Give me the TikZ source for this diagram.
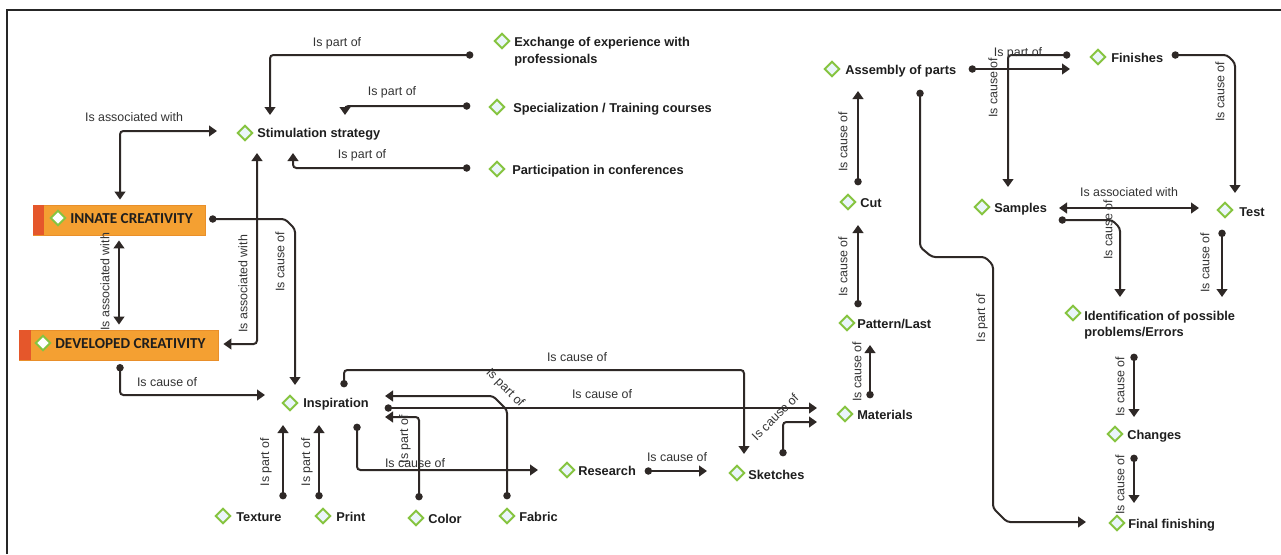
\documentclass[tikz,border=0pt]{standalone}
\usepackage{fontspec}
\setmainfont{Liberation Sans}
\newfontfamily\boxfont{Carlito}
\usetikzlibrary{arrows.meta,shapes.geometric,calc}
\definecolor{linec}{HTML}{2E2826}
\definecolor{greenc}{HTML}{86C440}
\definecolor{diafill}{HTML}{EAF5FA}
\definecolor{orangec}{HTML}{F4A032}
\definecolor{orangeb}{HTML}{E98F2A}
\definecolor{redc}{HTML}{E5572B}
\definecolor{textc}{HTML}{1E1E1E}
\definecolor{lblc}{HTML}{333333}
\tikzset{
  dia/.style={diamond, draw=greenc, fill=diafill, line width=1.5pt, minimum width=11.5pt, minimum height=11.5pt, inner sep=0pt},
  wdia/.style={dia, fill=white},
  ctext/.style={anchor=base west, inner sep=0pt, text=textc, font=\fontsize{9.6}{12.4}\selectfont\bfseries},
  mtext/.style={anchor=north west, inner sep=0pt, align=left, text=textc, font=\fontsize{9.6}{12.4}\selectfont\bfseries},
  btext/.style={anchor=base west, inner sep=0pt, text=textc, font=\fontsize{11.4}{13}\selectfont\boxfont\bfseries},
  obox/.style={draw=orangeb, fill=orangec, line width=0.6pt, minimum height=22.5pt, inner sep=0pt},
  lbl/.style={inner sep=0pt, text=lblc, font=\fontsize{9.3}{11}\selectfont},
  vlbl/.style={lbl, rotate=90},
  conn/.style={draw=linec, line width=1.5pt, rounded corners=2.5pt, shorten <=-2.5pt,
    arrows={Circle[length=5.5pt]-Triangle[width=8pt,length=6pt]}},
  biconn/.style={draw=linec, line width=1.5pt, rounded corners=2.5pt,
    arrows={Triangle[width=8pt,length=6pt]-Triangle[width=8pt,length=6pt]}}
}
\begin{document}
\begin{tikzpicture}[x=0.75pt,y=-0.75pt]
\useasboundingbox (0,0) rectangle (1281,554);
\fill[white] (0,0) rectangle (1281,554);
% frame
\draw[line width=1.2pt, black!85] (7,554) -- (7,10) -- (1281,10);

% orange boxes
\node[obox, minimum width=129pt] (innate) at (119,220) {};
\fill[redc] (innate.north west) rectangle ($(innate.south west)+(11,0)$);
\node[wdia] (dInnate) at (58,218) {};
\node[btext] (innatet) at (70,223) {INNATE CREATIVITY};

\node[obox, minimum width=149.25pt] (developed) at (118.5,345) {};
\fill[redc] (developed.north west) rectangle ($(developed.south west)+(12,0)$);
\node[wdia] (dDev) at (43,343) {};
\node[btext] (developedt) at (55,348) {DEVELOPED CREATIVITY};

% concepts
\node[dia] (dStim) at (245,133) {};
\node[ctext] (stim) at (257,137.5) {Stimulation strategy};
\node[dia] (dExch) at (502,41) {};
\node[mtext] (exch) at (514,37.2) {Exchange of experience with\\professionals};
\node[dia] (dSpec) at (497,107) {};
\node[ctext] (spec) at (513,112) {Specialization / Training courses};
\node[dia] (dPart) at (497,169) {};
\node[ctext] (part) at (512,174) {Participation in conferences};
\node[dia] (dInsp) at (290,403) {};
\node[ctext] (insp) at (303,407.5) {Inspiration};
\node[dia] (dText) at (223,516) {};
\node[ctext] (texture) at (236,521.5) {Texture};
\node[dia] (dPrint) at (323,516) {};
\node[ctext] (print) at (336,521.5) {Print};
\node[dia] (dColor) at (416,518) {};
\node[ctext] (color) at (428,523) {Color};
\node[dia] (dFabric) at (507,516) {};
\node[ctext] (fabric) at (519,521) {Fabric};
\node[dia] (dRes) at (567,470) {};
\node[ctext] (research) at (578,475) {Research};
\node[dia] (dSketch) at (737,473) {};
\node[ctext] (sketches) at (748,479) {Sketches};
\node[dia] (dMat) at (845,414) {};
\node[ctext] (materials) at (857,419) {Materials};
\node[dia] (dPat) at (847,323) {};
\node[ctext] (pattern) at (857,328) {Pattern/Last};
\node[dia] (dCut) at (848,202) {};
\node[ctext] (cut) at (860,207) {Cut};
\node[dia] (dAsm) at (832,69) {};
\node[ctext] (assembly) at (845,74) {Assembly of parts};
\node[dia] (dFin) at (1098,57) {};
\node[ctext] (finishes) at (1111,62) {Finishes};
\node[dia] (dSamp) at (982,207) {};
\node[ctext] (samples) at (994,212.5) {Samples};
\node[dia] (dTest) at (1225,210) {};
\node[ctext] (test) at (1239,216) {Test};
\node[dia] (dIdent) at (1073,313) {};
\node[mtext] (ident) at (1084,310.5) {Identification of possible\\problems/Errors};
\node[dia] (dChg) at (1115,434) {};
\node[ctext] (changes) at (1127,439.5) {Changes};
\node[dia] (dFinal) at (1117,523) {};
\node[ctext] (final) at (1128,528) {Final finishing};

% connectors
\draw[conn] ($(dExch)+(-32,14)$) -- (270,55) -- ($(dStim)+(25,-18)$);
\draw[conn] ($(dSpec)+(-30,-1)$) -- (345,106) -- ($(dStim)+(100,-18)$);
\draw[conn] ($(dPart)+(-30,-1)$) -- (293,168) -- ($(dStim)+(48,20)$);
\draw[biconn] ($(innate.north)+(1,-5)$) -- (120,131) -- ($(dStim)+(-28,-2)$);
\draw[biconn] ($(innate.south)+(0,5)$) -- ($(developed.north)+(0.5,-5)$);
\draw[biconn] ($(developed.east)+(5,-1)$) -- (257,344) -- ($(dStim)+(12,20)$);
\draw[conn] ($(innate.east)+(7,-1)$) -- (285,219) -- (295,229) -- ($(dInsp)+(5,-18)$);
\draw[conn] ($(developed.south)+(1.5,7)$) -- (120,395) -- ($(dInsp)+(-25,-8)$);
\draw[conn] ($(dText)+(60,-20)$) -- ($(dInsp)+(-7,22)$);
\draw[conn] ($(dPrint)+(-4,-20)$) -- ($(dInsp)+(29,22)$);
\draw[conn] ($(dInsp)+(67,24)$) -- (357,470) -- ($(dRes)+(-29,0)$);
\draw[conn] ($(dColor)+(3,-21)$) -- (419,417) -- ($(dInsp)+(95,14)$);
\draw[conn] ($(dFabric)+(0,-20)$) -- (507,410) -- (493,396) -- ($(dInsp)+(95,-7)$);
\draw[conn] ($(dInsp)+(98,5)$) -- ($(dMat)+(-28,-6)$);
\draw[conn] ($(dInsp)+(54,-19)$) -- (344,370) -- (744,370) -- ($(dSketch)+(7,-19)$);
\draw[conn] ($(dRes)+(81,1)$) -- ($(dSketch)+(-30,-2)$);
\draw[conn] ($(dSketch)+(46,-20)$) -- (783,422) -- ($(dMat)+(-28,8)$);
\draw[conn] ($(dMat)+(25,-19)$) -- ($(dPat)+(23,22)$);
\draw[conn] ($(dPat)+(11,-19)$) -- ($(dCut)+(10,23)$);
\draw[conn] ($(dCut)+(10,-20)$) -- ($(dAsm)+(26,22)$);
\draw[conn] ($(dAsm)+(88,24)$) -- (920,247) -- (932,257) -- (985,257) -- (993,265) -- (993,508) -- (1007,522) -- ($(dFinal)+(-31,-1)$);
\draw[conn] ($(dAsm)+(140,0)$) -- ($(dFin)+(-28,12)$);
\draw[conn] ($(dFin)+(-31,-2)$) -- (1008,55) -- ($(dSamp)+(26,-20)$);
\draw[conn] ($(dFin)+(77,-2)$) -- (1227,55) -- (1235,63) -- ($(dTest)+(10,-17)$);
\draw[biconn] ($(dSamp)+(77,1)$) -- ($(dTest)+(-26,-2)$);
\draw[conn] ($(dSamp)+(80,13)$) -- (1112,220) -- (1120,228) -- ($(dIdent)+(47,-16)$);
\draw[conn] ($(dTest)+(-3,23)$) -- ($(dIdent)+(149,-16)$);
\draw[conn] ($(dIdent)+(61,44)$) -- ($(dChg)+(19,-17)$);
\draw[conn] ($(dChg)+(19,24)$) -- ($(dFinal)+(17,-20)$);

% labels
\node[lbl] (l1) at (337,43) {Is part of};
\node[lbl] (l2) at (392,92) {Is part of};
\node[lbl] (l3) at (362,155) {Is part of};
\node[lbl] (l4) at (134,117) {Is associated with};
\node[vlbl] (l5) at (105,282) {Is associated with};
\node[vlbl] (l6) at (243,284) {Is associated with};
\node[vlbl] (l7) at (280,262) {Is cause of};
\node[lbl] (l8) at (167,382) {Is cause of};
\node[vlbl] (l9) at (266,462) {Is part of};
\node[vlbl] (l10) at (307,462) {Is part of};
\node[lbl] (l11) at (415,463) {Is cause of};
\node[vlbl] (l12) at (405,439) {Is part of};
\node[lbl, rotate=-45] (l13) at (505,388) {Is part of};
\node[lbl] (l14) at (602,394) {Is cause of};
\node[lbl] (l15) at (577,357) {Is cause of};
\node[lbl] (l16) at (677,457) {Is cause of};
\node[lbl, rotate=45] (l17) at (775,417) {Is cause of};
\node[vlbl] (l18) at (857,372) {Is cause of};
\node[vlbl] (l19) at (843,267) {Is cause of};
\node[vlbl] (l20) at (843,142) {Is cause of};
\node[vlbl] (l21) at (982,318) {Is part of};
\node[lbl] (l22) at (1018,53) {Is part of};
\node[vlbl] (l23) at (993,88) {Is cause of};
\node[vlbl] (l24) at (1220,92) {Is cause of};
\node[lbl] (l25) at (1129,192) {Is associated with};
\node[vlbl] (l26) at (1108,230) {Is cause of};
\node[vlbl] (l27) at (1205,263) {Is cause of};
\node[vlbl] (l28) at (1120,387) {Is cause of};
\node[vlbl] (l29) at (1120,485) {Is cause of};
\end{tikzpicture}
\end{document}
